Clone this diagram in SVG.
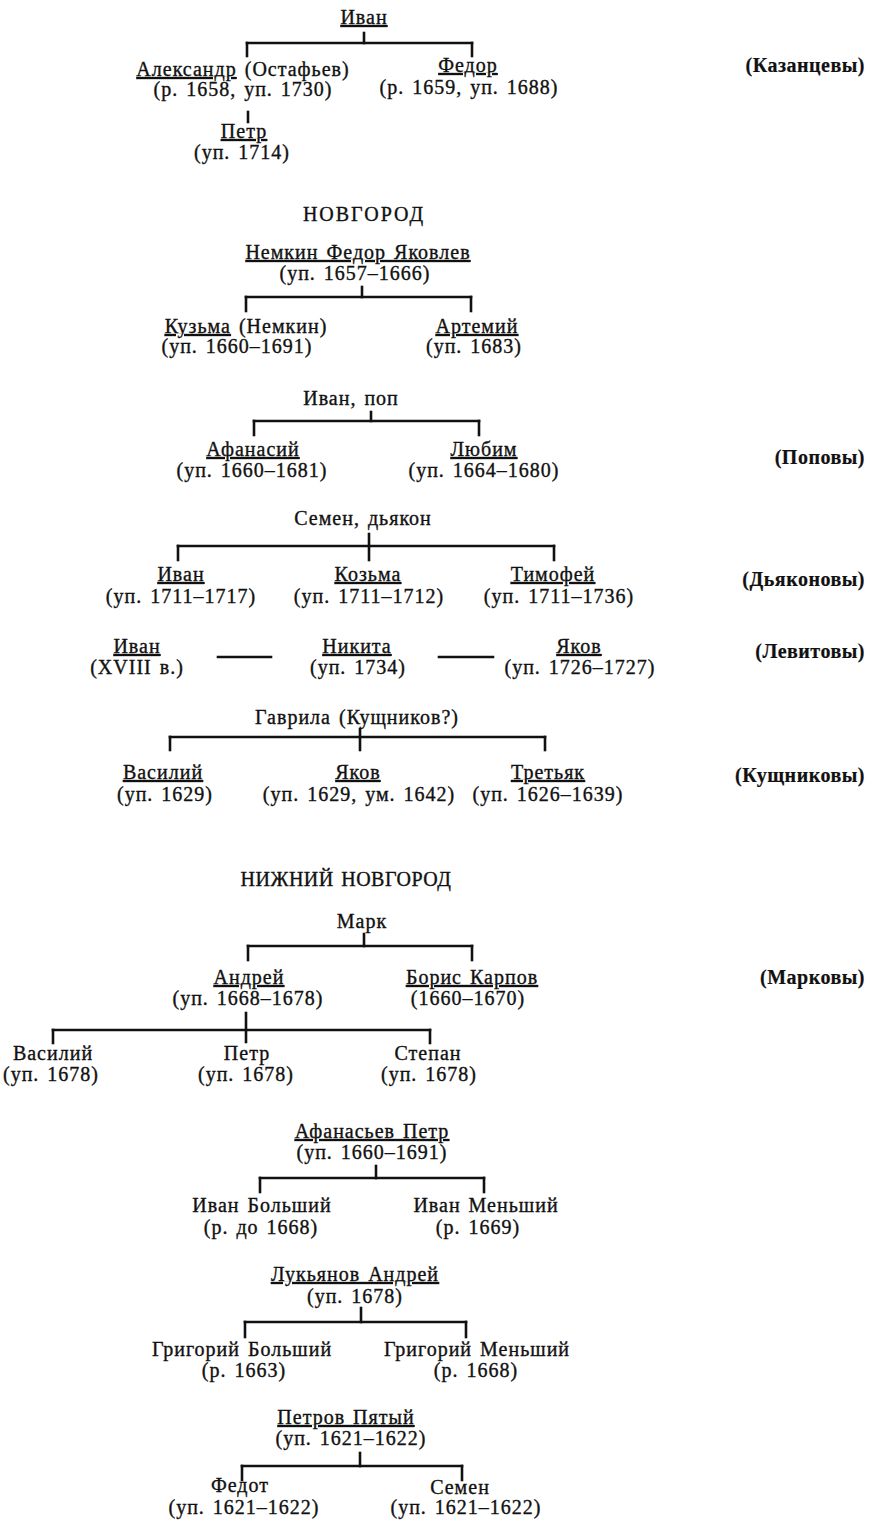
<svg xmlns="http://www.w3.org/2000/svg" width="877" height="1528" viewBox="0 0 877 1528">
<style>
text{font-family:"Liberation Serif","Times New Roman",serif;font-size:20px;fill:#111;stroke:#111;stroke-width:0.35;text-anchor:middle;letter-spacing:1px;word-spacing:2px}
.u{text-decoration:underline}
.fam{font-weight:bold;text-anchor:end;letter-spacing:0.5px;stroke-width:0.2}
.hd{letter-spacing:0.5px}
.hd2{letter-spacing:2px}
.c line{stroke:#111;stroke-width:2.6;stroke-linecap:square}
</style>
<rect width="877" height="1528" fill="#fff"/>
<g id="connectors" class="c">
<line x1="364" y1="33" x2="364" y2="43"/><line x1="247" y1="43" x2="472" y2="43"/><line x1="247" y1="43" x2="247" y2="56"/><line x1="472" y1="43" x2="472" y2="56"/>
<line x1="248" y1="112" x2="248" y2="122"/>
<line x1="362" y1="287" x2="362" y2="297"/><line x1="246" y1="297" x2="471" y2="297"/><line x1="246" y1="297" x2="246" y2="311"/><line x1="471" y1="297" x2="471" y2="311"/>
<line x1="371" y1="412" x2="371" y2="421"/><line x1="254" y1="421" x2="479" y2="421"/><line x1="254" y1="421" x2="254" y2="435"/><line x1="479" y1="421" x2="479" y2="435"/>
<line x1="369" y1="534" x2="369" y2="560"/><line x1="178" y1="546" x2="554" y2="546"/><line x1="178" y1="546" x2="178" y2="560"/><line x1="554" y1="546" x2="554" y2="560"/>
<line x1="218" y1="657" x2="271" y2="657"/><line x1="439" y1="657" x2="493" y2="657"/>
<line x1="360" y1="729" x2="360" y2="750"/><line x1="170" y1="737" x2="545" y2="737"/><line x1="170" y1="737" x2="170" y2="750"/><line x1="545" y1="737" x2="545" y2="750"/>
<line x1="364" y1="934" x2="364" y2="946"/><line x1="248" y1="946" x2="472" y2="946"/><line x1="248" y1="946" x2="248" y2="960"/><line x1="472" y1="946" x2="472" y2="960"/>
<line x1="246" y1="1013" x2="246" y2="1042"/><line x1="53" y1="1030" x2="430" y2="1030"/><line x1="53" y1="1030" x2="53" y2="1043"/><line x1="430" y1="1030" x2="430" y2="1043"/>
<line x1="376" y1="1166" x2="376" y2="1178"/><line x1="260" y1="1178" x2="484" y2="1178"/><line x1="260" y1="1178" x2="260" y2="1192"/><line x1="484" y1="1178" x2="484" y2="1192"/>
<line x1="361" y1="1308" x2="361" y2="1322"/><line x1="245" y1="1322" x2="466" y2="1322"/><line x1="245" y1="1322" x2="245" y2="1337"/><line x1="466" y1="1322" x2="466" y2="1337"/>
<line x1="360" y1="1453" x2="360" y2="1466"/><line x1="242" y1="1466" x2="462" y2="1466"/><line x1="242" y1="1466" x2="242" y2="1480"/><line x1="462" y1="1466" x2="462" y2="1480"/>
</g>
<g id="kazan-ivan"><text x="364" y="24" class="u">Иван</text></g>
<g id="kazan-aleksandr"><text x="243" y="76"><tspan class="u">Александр</tspan> (Остафьев)</text><text x="243" y="96">(р. 1658, уп. 1730)</text></g>
<g id="kazan-fedor"><text x="468" y="72" class="u">Федор</text><text x="469" y="94">(р. 1659, уп. 1688)</text></g>
<g id="kazan-petr"><text x="244" y="138" class="u">Петр</text><text x="242" y="159">(уп. 1714)</text></g>
<g id="fam-kazantsevy"><text x="865" y="72" class="fam">(Казанцевы)</text></g>

<g id="head-novgorod"><text x="364" y="221" class="hd2">НОВГОРОД</text></g>
<g id="nemkin"><text x="358" y="259" class="u">Немкин Федор Яковлев</text><text x="355" y="280">(уп. 1657–1666)</text></g>
<g id="kuzma"><text x="246" y="333"><tspan class="u">Кузьма</tspan> (Немкин)</text><text x="237" y="353">(уп. 1660–1691)</text></g>
<g id="artemiy"><text x="477" y="333" class="u">Артемий</text><text x="474" y="353">(уп. 1683)</text></g>

<g id="ivan-pop"><text x="351" y="405">Иван, поп</text></g>
<g id="afanasiy"><text x="253" y="456" class="u">Афанасий</text><text x="252" y="477">(уп. 1660–1681)</text></g>
<g id="lyubim"><text x="484" y="456" class="u">Любим</text><text x="484" y="477">(уп. 1664–1680)</text></g>
<g id="fam-popovy"><text x="865" y="464" class="fam">(Поповы)</text></g>

<g id="semen-dyakon"><text x="363" y="525">Семен, дьякон</text></g>
<g id="d-ivan"><text x="181" y="581" class="u">Иван</text><text x="181" y="603">(уп. 1711–1717)</text></g>
<g id="d-kozma"><text x="368" y="581" class="u">Козьма</text><text x="369" y="603">(уп. 1711–1712)</text></g>
<g id="d-timofey"><text x="553" y="581" class="u">Тимофей</text><text x="559" y="603">(уп. 1711–1736)</text></g>
<g id="fam-dyakonovy"><text x="865" y="586" class="fam">(Дьяконовы)</text></g>

<g id="l-ivan"><text x="137" y="653" class="u">Иван</text><text x="137" y="674">(XVIII в.)</text></g>
<g id="l-nikita"><text x="357" y="653" class="u">Никита</text><text x="358" y="674">(уп. 1734)</text></g>
<g id="l-yakov"><text x="579" y="653" class="u">Яков</text><text x="580" y="674">(уп. 1726–1727)</text></g>
<g id="fam-levitovy"><text x="865" y="658" class="fam">(Левитовы)</text></g>

<g id="gavrila"><text x="357" y="724">Гаврила (Кущников?)</text></g>
<g id="k-vasiliy"><text x="163" y="779" class="u">Василий</text><text x="165" y="801">(уп. 1629)</text></g>
<g id="k-yakov"><text x="358" y="779" class="u">Яков</text><text x="359" y="801">(уп. 1629, ум. 1642)</text></g>
<g id="k-tretyak"><text x="548" y="779" class="u">Третьяк</text><text x="548" y="801">(уп. 1626–1639)</text></g>
<g id="fam-kushchnikovy"><text x="865" y="782" class="fam">(Кущниковы)</text></g>

<g id="head-nizhniy"><text x="346" y="886" class="hd">НИЖНИЙ НОВГОРОД</text></g>
<g id="mark"><text x="362" y="928">Марк</text></g>
<g id="andrey"><text x="249" y="984" class="u">Андрей</text><text x="248" y="1005">(уп. 1668–1678)</text></g>
<g id="boris"><text x="472" y="984" class="u">Борис Карпов</text><text x="468" y="1005">(1660–1670)</text></g>
<g id="fam-markovy"><text x="865" y="984" class="fam">(Марковы)</text></g>
<g id="m-vasiliy"><text x="53" y="1060">Василий</text><text x="51" y="1081">(уп. 1678)</text></g>
<g id="m-petr"><text x="247" y="1060">Петр</text><text x="246" y="1081">(уп. 1678)</text></g>
<g id="m-stepan"><text x="428" y="1060">Степан</text><text x="429" y="1081">(уп. 1678)</text></g>

<g id="afanasyev"><text x="372" y="1138" class="u">Афанасьев Петр</text><text x="372" y="1159">(уп. 1660–1691)</text></g>
<g id="ivan-bolshiy"><text x="262" y="1212">Иван Больший</text><text x="261" y="1234">(р. до 1668)</text></g>
<g id="ivan-menshiy"><text x="486" y="1212">Иван Меньший</text><text x="478" y="1234">(р. 1669)</text></g>

<g id="lukyanov"><text x="355" y="1281" class="u">Лукьянов Андрей</text><text x="355" y="1303">(уп. 1678)</text></g>
<g id="grigoriy-bolshiy"><text x="242" y="1356">Григорий Больший</text><text x="244" y="1377">(р. 1663)</text></g>
<g id="grigoriy-menshiy"><text x="477" y="1356">Григорий Меньший</text><text x="476" y="1377">(р. 1668)</text></g>

<g id="petrov"><text x="346" y="1424" class="u">Петров Пятый</text><text x="351" y="1445">(уп. 1621–1622)</text></g>
<g id="fedot"><text x="240" y="1492">Федот</text><text x="244" y="1514">(уп. 1621–1622)</text></g>
<g id="semen"><text x="460" y="1494">Семен</text><text x="466" y="1514">(уп. 1621–1622)</text></g>
</svg>
